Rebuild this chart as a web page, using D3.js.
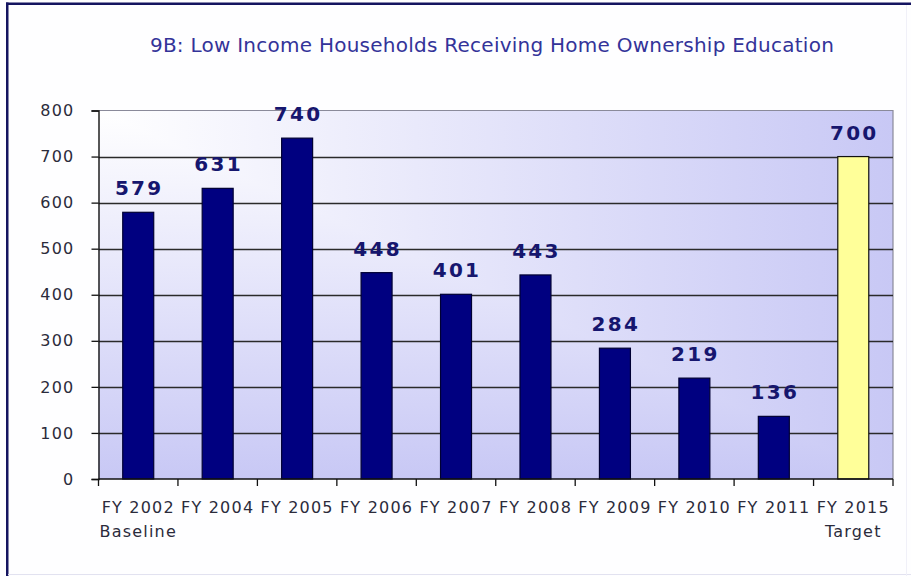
<!DOCTYPE html>
<html>
<head>
<meta charset="utf-8">
<script src="https://cdn.jsdelivr.net/npm/d3@7"></script>
<style>
  html, body { margin: 0; padding: 0; background: #ffffff; }
  svg { display: block; }
</style>
</head>
<body>
<svg id="chart" width="911" height="576"></svg>
<script>
// Fiscal years shown along the x axis, with an optional second line under each
const categories = ["FY 2002", "FY 2004", "FY 2005", "FY 2006", "FY 2007",
                    "FY 2008", "FY 2009", "FY 2010", "FY 2011", "FY 2015"];
const subLabels  = ["Baseline", "", "", "", "", "", "", "", "", "Target"];
// Households receiving home ownership education
const values     = [579, 631, 740, 448, 401, 443, 284, 219, 136, 700];
// Actual results vs. the goal year
const kinds      = ["actual", "actual", "actual", "actual", "actual",
                    "actual", "actual", "actual", "actual", "target"];
const yTicks     = [0, 100, 200, 300, 400, 500, 600, 700, 800];
const titleText  = "9B: Low Income Households Receiving Home Ownership Education";

const svg = d3.select("#chart");
const W = 911, H = 576;
const plot = { left: 98.5, right: 893, top: 110.5, bottom: 479 };

const x = d3.scaleBand()
  .domain(categories)
  .range([plot.left, plot.right])
  .paddingInner(0.61)
  .paddingOuter(0.305);

const y = d3.scaleLinear()
  .domain([0, 800])
  .range([plot.bottom, plot.top]);

const fillFor = { actual: "#000080", target: "#ffff99" };

// Page background
svg.append("rect").attr("width", W).attr("height", H).attr("fill", "#fefeff");

// Plot-area shading: light in the top-left corner, deepening toward the
// right and bottom edges (a "from corner" rectangular gradient)
const defs = svg.append("defs");
const gH = defs.append("linearGradient").attr("id", "shadeH")
  .attr("gradientUnits", "userSpaceOnUse")
  .attr("x1", plot.left).attr("y1", 0).attr("x2", plot.right).attr("y2", 0);
gH.append("stop").attr("offset", 0).attr("stop-color", "#ffffff");
gH.append("stop").attr("offset", 1).attr("stop-color", "#c8c8f5");
const gV = defs.append("linearGradient").attr("id", "shadeV")
  .attr("gradientUnits", "userSpaceOnUse")
  .attr("x1", 0).attr("y1", plot.top).attr("x2", 0).attr("y2", plot.bottom);
gV.append("stop").attr("offset", 0).attr("stop-color", "#ffffff");
gV.append("stop").attr("offset", 1).attr("stop-color", "#c8c8f5");

svg.append("rect")
  .attr("x", plot.left).attr("y", plot.top)
  .attr("width", plot.right - plot.left).attr("height", plot.bottom - plot.top)
  .attr("fill", "url(#shadeH)");
svg.append("polygon")
  .attr("points", [[plot.left, plot.top], [plot.left, plot.bottom], [plot.right, plot.bottom]]
    .map(p => p.join(",")).join(" "))
  .attr("fill", "url(#shadeV)");

// Plot-area border (top and right)
svg.append("path")
  .attr("d", `M${plot.left},${plot.top}H${plot.right}V${plot.bottom}`)
  .attr("fill", "none").attr("stroke", "#8a8a9a").attr("stroke-width", 1.2);

// Horizontal gridlines
svg.append("g")
  .selectAll("line")
  .data(yTicks.filter(t => t > 0 && t < 800))
  .join("line")
  .attr("x1", plot.left).attr("x2", plot.right)
  .attr("y1", d => Math.round(y(d)) + 0.5).attr("y2", d => Math.round(y(d)) + 0.5)
  .attr("stroke", "#2a2a2a").attr("stroke-width", 1.3);

// Bars
svg.append("g")
  .selectAll("rect")
  .data(values.map((v, i) => ({ cat: categories[i], v, kind: kinds[i] })))
  .join("rect")
  .attr("x", d => x(d.cat))
  .attr("y", d => y(d.v))
  .attr("width", x.bandwidth())
  .attr("height", d => y(0) - y(d.v))
  .attr("fill", d => fillFor[d.kind])
  .attr("stroke", d => d.kind === "target" ? "#111111" : "#000033")
  .attr("stroke-width", 1.2);

// Value labels above bars
svg.append("g")
  .selectAll("text")
  .data(values.map((v, i) => ({ cat: categories[i], v })))
  .join("text")
  .attr("x", d => x(d.cat) + x.bandwidth() / 2 + 1)
  .attr("y", d => y(d.v) - 17)
  .attr("text-anchor", "middle")
  .attr("font-family", "DejaVu Sans, Verdana, sans-serif")
  .attr("font-weight", "bold")
  .attr("font-size", 20)
  .attr("letter-spacing", 2.3)
  .attr("fill", "#16166e")
  .text(d => d.v);

// Y axis
const yAxis = svg.append("g")
  .attr("transform", `translate(${plot.left},0)`)
  .call(d3.axisLeft(y).tickValues(yTicks).tickSize(7).tickPadding(17).tickFormat(d3.format("d")));
yAxis.select(".domain").attr("stroke", "#111").attr("stroke-width", 1.4);
yAxis.selectAll(".tick line").attr("stroke", "#111").attr("stroke-width", 1.3);
yAxis.selectAll(".tick text")
  .attr("font-family", "DejaVu Sans, Verdana, sans-serif")
  .attr("font-size", 16)
  .attr("letter-spacing", 1.2)
  .attr("fill", "#2b2b3b");

// X axis: ticks at category boundaries
const boundaries = categories.map(c => x(c) - x.step() * x.paddingOuter()).concat([plot.right]);
const xAxis = svg.append("g");
xAxis.append("line")
  .attr("x1", plot.left).attr("x2", plot.right)
  .attr("y1", plot.bottom).attr("y2", plot.bottom)
  .attr("stroke", "#111").attr("stroke-width", 1.4);
xAxis.selectAll("line.tk")
  .data(boundaries)
  .join("line").attr("class", "tk")
  .attr("x1", d => d).attr("x2", d => d)
  .attr("y1", plot.bottom).attr("y2", plot.bottom + 7)
  .attr("stroke", "#111").attr("stroke-width", 1.3);

const xLabels = svg.append("g")
  .selectAll("text")
  .data(categories.map((c, i) => ({ c, sub: subLabels[i] })))
  .join("text")
  .attr("text-anchor", "middle")
  .attr("font-family", "DejaVu Sans, Verdana, sans-serif")
  .attr("font-size", 16)
  .attr("letter-spacing", 1.2)
  .attr("fill", "#2b2b3b");
xLabels.append("tspan")
  .attr("x", d => x(d.c) + x.bandwidth() / 2)
  .attr("y", 513)
  .text(d => d.c);
xLabels.filter(d => d.sub)
  .append("tspan")
  .attr("x", d => x(d.c) + x.bandwidth() / 2)
  .attr("y", 537)
  .text(d => d.sub);

// Title
svg.append("text")
  .attr("x", 492)
  .attr("y", 52)
  .attr("text-anchor", "middle")
  .attr("font-family", "DejaVu Sans, Verdana, sans-serif")
  .attr("font-size", 20)
  .attr("letter-spacing", 0.25)
  .attr("fill", "#333399")
  .text(titleText);

// Frame around the chart
svg.append("line").attr("x1", 6).attr("x2", W).attr("y1", 3.75).attr("y2", 3.75)
  .attr("stroke", "#141460").attr("stroke-width", 2.5);
svg.append("line").attr("x1", 7.25).attr("x2", 7.25).attr("y1", 2.5).attr("y2", H)
  .attr("stroke", "#141460").attr("stroke-width", 2.5);
svg.append("line").attr("x1", 8).attr("x2", W).attr("y1", 574.5).attr("y2", 574.5)
  .attr("stroke", "#e2e2f0").attr("stroke-width", 1);
svg.append("line").attr("x1", 906.5).attr("x2", 906.5).attr("y1", 5).attr("y2", H)
  .attr("stroke", "#f0f0f8").attr("stroke-width", 1);
</script>
</body>
</html>
